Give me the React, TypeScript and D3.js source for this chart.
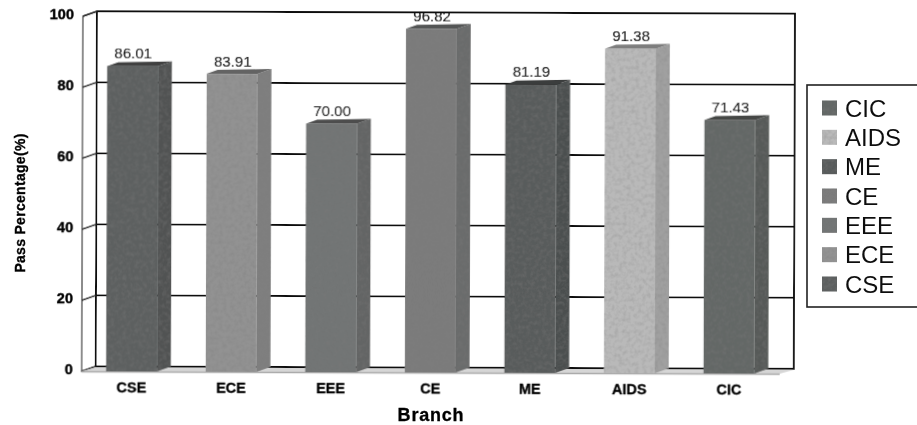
import * as d3 from "d3";

const categories = ["CSE", "ECE", "EEE", "CE", "ME", "AIDS", "CIC"];
const passPercentage = [86.01, 83.91, 70.0, 96.82, 81.19, 91.38, 71.43];
const valueLabels = ["86.01", "83.91", "70.00", "96.82", "81.19", "91.38", "71.43"];
const yTicks = [0, 20, 40, 60, 80, 100];
const barColors = ["#5d6060", "#929292", "#727474", "#7b7c7c", "#585b5b", "#b9b9b9", "#646866"];
const legendOrder = ["CIC", "AIDS", "ME", "CE", "EEE", "ECE", "CSE"];

const width = 917;
const height = 425;
const depthX = 14;
const depthY = -5;
const font = "'Liberation Sans', Arial, sans-serif";

const x = d3.scaleBand().domain(categories).range([83, 780]).paddingInner(0.49).paddingOuter(0.245);
const y = d3.scaleLinear().domain([0, 100]).range([371, 16]);
const legendY = d3.scalePoint().domain(legendOrder).range([108, 284]);
const shade = (c: string, k: number) => d3.color(c)!.darker(k).formatHex();
const poly = (pts: [number, number][]) => d3.line()(pts) + "Z";

export default function App() {
  const wallLeft = x.range()[0];
  const backLeft = wallLeft + depthX;
  const backRight = 795;
  return (
    <svg
      width={width}
      height={height}
      viewBox={`0 0 ${width} ${height}`}
      style={{ position: "absolute", left: 0, top: 0, background: "#fff" }}
      fontFamily={font}
    >
      <defs>
        <filter id="grain" x="0" y="0" width="100%" height="100%">
          <feTurbulence type="fractalNoise" baseFrequency="0.25" numOctaves="2" seed="4" />
          <feColorMatrix values="0 0 0 0 0.2  0 0 0 0 0.2  0 0 0 0 0.2  0.7 0 0 0 -0.28" />
          <feComposite in2="SourceGraphic" operator="in" />
          <feMerge>
            <feMergeNode in="SourceGraphic" />
            <feMergeNode />
          </feMerge>
        </filter>
        <filter id="soft">
          <feGaussianBlur stdDeviation="0.5" />
        </filter>
      </defs>
      <g transform="rotate(0.2)" filter="url(#soft)">
        {/* back wall */}
        <rect x={backLeft} y={y(100) + depthY} width={backRight - backLeft} height={y(0) - y(100)} fill="#fff" stroke="#1a1a1a" strokeWidth={2} />
        <path d={poly([[wallLeft, y(100)], [backLeft, y(100) + depthY], [backLeft, y(0) + depthY], [wallLeft, y(0)]])} fill="#fff" stroke="#666" strokeWidth={1.5} />
        <line x1={backLeft} x2={backLeft} y1={y(100) + depthY} y2={y(0) + depthY} stroke="#111" strokeWidth={2} />
        {yTicks.map((t) => (
          <g key={t}>
            <line x1={backLeft} x2={backRight} y1={y(t) + depthY} y2={y(t) + depthY} stroke="#111" strokeWidth={2} />
            <line x1={wallLeft} x2={backLeft} y1={y(t)} y2={y(t) + depthY} stroke="#222" strokeWidth={1.4} />
            <text x={74} y={y(t) - 1} textAnchor="end" dominantBaseline="middle" fontSize={14.5} fontWeight="bold" fill="#000" stroke="#000" strokeWidth={0.4}>
              {t}
            </text>
          </g>
        ))}
        {/* floor */}
        <path d={poly([[wallLeft, y(0)], [backLeft, y(0) + depthY + 1], [backRight, y(0) + depthY + 1], [backRight - depthX, y(0)]])} fill="#d6d6d6" />
        <line x1={wallLeft} x2={backRight - depthX} y1={y(0) + 0.5} y2={y(0) + 0.5} stroke="#aaa" strokeWidth={1.5} />

        {categories.map((c, i) => {
          const x0 = x(c)!;
          const x1 = x0 + x.bandwidth();
          const top = y(passPercentage[i]);
          const base = y(0);
          const col = barColors[i];
          return (
            <g key={c}>
              <g filter="url(#grain)">
                <rect x={x0} y={top} width={x.bandwidth()} height={base - top} fill={col} />
                <path d={poly([[x1, top], [x1 + depthX, top + depthY], [x1 + depthX, base + depthY], [x1, base]])} fill={shade(col, 0.4)} />
              </g>
              <path d={poly([[x0, top], [x0 + depthX - 3, top + depthY + 1], [x1 + depthX, top + depthY], [x1, top]])} fill={shade(col, 1.1)} />
              <text x={x0 + 26} y={top + depthY - 2.5} textAnchor="middle" fontSize={15} fill="#111" stroke="#111" strokeWidth={0.2}>
                {valueLabels[i]}
              </text>
              <text x={x0 + x.bandwidth() / 2} y={392} textAnchor="middle" fontSize={14.5} fontWeight="bold" fill="#000" stroke="#000" strokeWidth={0.3}>
                {c}
              </text>
            </g>
          );
        })}
      </g>

      <g filter="url(#soft)">
        <text x={431} y={421} textAnchor="middle" fontSize={18} fontWeight="bold" letterSpacing={0.8} fill="#000" stroke="#000" strokeWidth={0.3}>
          Branch
        </text>
        <text transform="translate(25,203) rotate(-90)" textAnchor="middle" fontSize={14} fontWeight="bold" letterSpacing={0.3} fill="#000" stroke="#000" strokeWidth={0.3}>
          Pass Percentage(%)
        </text>

        {/* legend */}
        <rect x={807} y={85} width={130} height={222} fill="#fff" stroke="#222" strokeWidth={1.6} />
        {legendOrder.map((c) => {
          const col = barColors[categories.indexOf(c)];
          const ly = legendY(c)!;
          return (
            <g key={c}>
              <rect x={822} y={ly - 7.5} width={15} height={15} fill={col} filter="url(#grain)" />
              <text x={845} y={ly} dominantBaseline="central" fontSize={24} fill="#111">
                {c}
              </text>
            </g>
          );
        })}
      </g>
    </svg>
  );
}
